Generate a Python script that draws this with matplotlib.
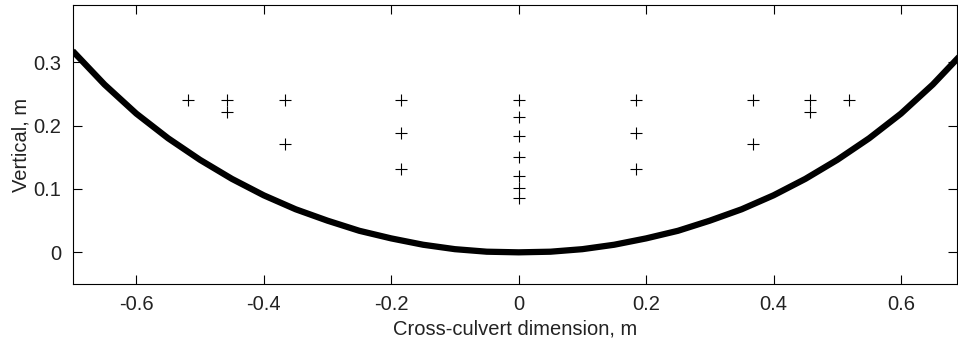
import numpy as np
import matplotlib
matplotlib.use('Agg')
import matplotlib.pyplot as plt

# ============================== Data ==========================================
# culvert invert profile
curve_x = [-0.70, -0.65, -0.60, -0.55, -0.50, -0.45, -0.40, -0.35, -0.30, -0.25,
           -0.20, -0.15, -0.10, -0.05, 0.00, 0.05, 0.10, 0.15, 0.20, 0.25,
           0.30, 0.35, 0.40, 0.45, 0.50, 0.55, 0.60, 0.65, 0.70]
curve_y = [0.318, 0.265, 0.219, 0.180, 0.146, 0.116, 0.090, 0.068, 0.050, 0.034,
           0.022, 0.012, 0.005, 0.001, 0.000, 0.001, 0.005, 0.012, 0.022, 0.034,
           0.050, 0.068, 0.090, 0.116, 0.146, 0.180, 0.219, 0.265, 0.318]

# measurement points
pts_x = [-0.519, -0.458, -0.458, -0.367, -0.367, -0.184, -0.184, -0.184,
         0, 0, 0, 0, 0, 0, 0,
         0.184, 0.184, 0.184, 0.367, 0.367, 0.458, 0.458, 0.519]
pts_y = [0.241, 0.241, 0.221, 0.241, 0.171, 0.241, 0.188, 0.132,
         0.241, 0.213, 0.183, 0.151, 0.121, 0.102, 0.085,
         0.241, 0.188, 0.132, 0.241, 0.171, 0.241, 0.221, 0.241]

xticks = [-0.6, -0.4, -0.2, 0, 0.2, 0.4, 0.6]
xtick_labels = ['-0.6', '-0.4', '-0.2', '0', '0.2', '0.4', '0.6']
yticks = [0, 0.1, 0.2, 0.3]
ytick_labels = ['0', '0.1', '0.2', '0.3']

# ============================== Plot ==========================================
plt.rcParams['font.family'] = ['Liberation Sans', 'DejaVu Sans']
plt.rcParams['font.size'] = 14.5

fig = plt.figure(figsize=(9.58, 3.43), dpi=100)
ax = fig.add_axes([0.0758, 0.172, 0.9232, 0.8125])

ax.plot(curve_x, curve_y, color='black', linewidth=4.5, solid_capstyle='butt')
ax.plot(pts_x, pts_y, linestyle='none', marker='+', markersize=9,
        markeredgewidth=0.8, color='black')

ax.set_xlim(-0.7, 0.688)
ax.set_ylim(-0.05, 0.39)
ax.set_xticks(xticks)
ax.set_xticklabels(xtick_labels)
ax.set_yticks(yticks)
ax.set_yticklabels(ytick_labels)
ax.tick_params(direction='in', top=True, right=True, length=6.5, width=0.8,
               labelcolor='#222222', pad=8)
for s in ax.spines.values():
    s.set_linewidth(0.8)

ax.set_xlabel('Cross-culvert dimension, m', color='#222222', labelpad=4)
ax.set_ylabel('Vertical, m', color='#222222', labelpad=2)

fig.savefig('out.png', dpi=100)
